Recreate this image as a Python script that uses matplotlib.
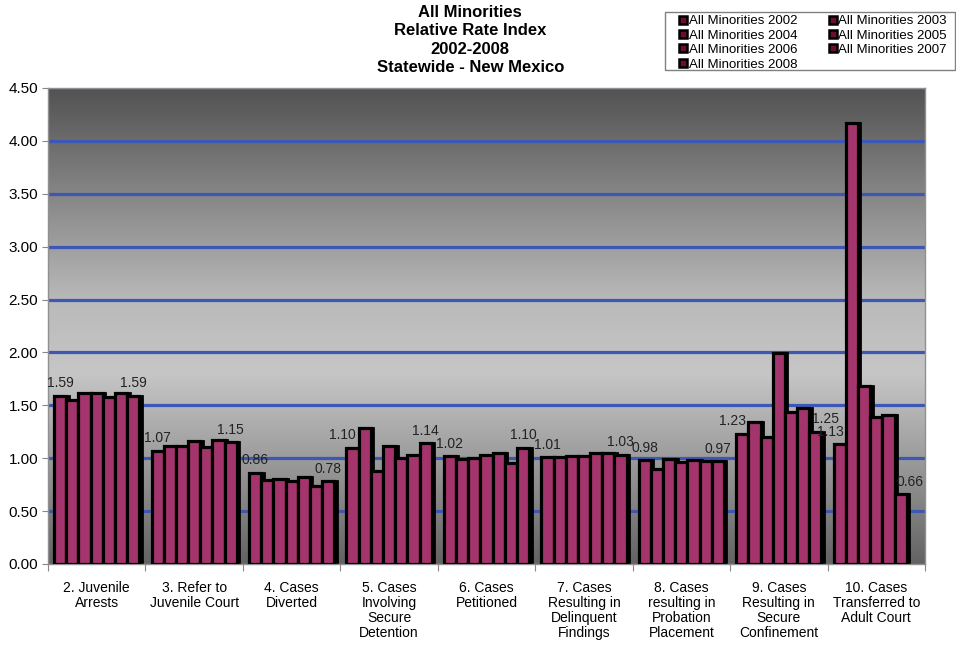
import matplotlib
matplotlib.use('Agg')
import matplotlib.pyplot as plt
import numpy as np
from matplotlib.colors import LinearSegmentedColormap
from matplotlib.lines import Line2D
from matplotlib.patches import Rectangle

categories = ['2. Juvenile\nArrests', '3. Refer to\nJuvenile Court', '4. Cases\nDiverted',
              '5. Cases\nInvolving\nSecure\nDetention', '6. Cases\nPetitioned',
              '7. Cases\nResulting in\nDelinquent\nFindings', '8. Cases\nresulting in\nProbation\nPlacement',
              '9. Cases\nResulting in\nSecure\nConfinement', '10. Cases\nTransferred to\nAdult Court']
years = ['2002', '2003', '2004', '2005', '2006', '2007', '2008']

# one list per year, values per category
rri_2002 = [1.59, 1.07, 0.86, 1.10, 1.02, 1.01, 0.98, 1.23, 1.13]
rri_2003 = [1.55, 1.12, 0.79, 1.29, 0.99, 1.01, 0.90, 1.34, 4.17]
rri_2004 = [1.62, 1.12, 0.80, 0.88, 1.00, 1.02, 0.99, 1.20, 1.68]
rri_2005 = [1.62, 1.16, 0.78, 1.12, 1.03, 1.02, 0.96, 1.99, 1.39]
rri_2006 = [1.58, 1.11, 0.82, 1.00, 1.05, 1.05, 0.98, 1.44, 1.41]
rri_2007 = [1.62, 1.17, 0.74, 1.03, 0.95, 1.05, 0.97, 1.47, 0.66]
rri_2008 = [1.59, 1.15, 0.78, 1.14, 1.10, 1.03, 0.97, 1.25, np.nan]
series = [rri_2002, rri_2003, rri_2004, rri_2005, rri_2006, rri_2007, rri_2008]

yticks = [0, 0.5, 1.0, 1.5, 2.0, 2.5, 3.0, 3.5, 4.0, 4.5]

bar_color = '#a3356c'
grid_blue = '#3c58b4'

fig = plt.figure(figsize=(9.56, 6.45), dpi=100)
ax = fig.add_axes([0.0502, 0.1256, 0.9174, 0.738])

# gradient background
cmap = LinearSegmentedColormap.from_list('bg', [(0.0, '#636363'), (0.22, '#9c9c9c'), (0.40, '#c6c6c6'),
                                                (0.55, '#bababa'), (1.0, '#525252')])
grad = np.linspace(0, 1, 256).reshape(-1, 1)
ax.imshow(grad, aspect='auto', cmap=cmap, origin='lower', extent=[-0.5, 8.5, 0, 4.5], zorder=0)

for t in yticks[1:]:
    ax.axhline(t, color=grid_blue, lw=2.3, zorder=1)

x = np.arange(len(categories))
w = 0.125
for i, vals in enumerate(series):
    vals = np.array(vals, dtype=float)
    pos = x + (i - 3) * w
    # drop shadow
    ax.bar(pos + 0.025, vals, w, color='black', edgecolor='black', lw=2, zorder=2)
    ax.bar(pos, vals, w, color=bar_color, edgecolor='black', lw=2.3, zorder=3)

# data labels on first and last year of each group, nudged aside when the neighbour bar is taller
for j in range(len(categories)):
    col = np.array([s[j] for s in series], dtype=float)
    valid = np.where(~np.isnan(col))[0]
    for k, nb, side in ((valid[0], valid[0] + 1, -1), (valid[-1], valid[-1] - 1, 1)):
        dx = 7 * side if col[nb] > col[k] + 0.1 else 0
        ax.annotate('%.2f' % col[k], (x[j] + (k - 3) * w, col[k]), xytext=(dx, 4),
                    textcoords='offset points', ha='center', va='bottom', fontsize=10,
                    family='Liberation Sans', color='#222222', zorder=5)

ax.set_xlim(-0.5, 8.5)
ax.set_ylim(0, 4.5)
ax.set_yticks(yticks)
ax.get_yaxis().set_major_formatter(matplotlib.ticker.FuncFormatter(lambda v, p: '%.2f' % v))
ax.set_xticks(np.arange(-0.5, 9.0, 1.0))
ax.set_xticklabels([])
ax.set_xticks(x, minor=True)
ax.set_xticklabels(categories, minor=True, fontsize=10, family=['Liberation Sans Narrow', 'Liberation Sans'],
                   linespacing=1.1)
ax.tick_params(axis='x', which='minor', length=0, pad=12)
ax.tick_params(axis='x', which='major', length=5, color='#888888')
ax.tick_params(axis='y', length=4, color='#888888', labelsize=11, pad=3)
for lab in ax.get_yticklabels():
    lab.set_family('Liberation Sans')
for s in ax.spines.values():
    s.set_color('#909090')
    s.set_linewidth(1)

fig.text(0.492, 0.993, 'All Minorities\nRelative Rate Index\n2002-2008\nStatewide - New Mexico',
         ha='center', va='top', fontsize=12, fontweight='bold', family='Liberation Sans', linespacing=1.3)

# legend box drawn separately so the entries can sit with Excel-like padding
fig.patches.append(Rectangle((0.6956, 0.8915), 0.3033, 0.0899, transform=fig.transFigure,
                             facecolor='white', edgecolor='#808080', lw=1))
handles = [Line2D([], [], marker='s', ls='', markersize=6, markerfacecolor='#6a0f2c',
                  markeredgecolor='black', markeredgewidth=1.8) for _ in years]
labels = ['All Minorities ' + y for y in years]
order = [0, 2, 4, 6, 1, 3, 5]
leg = fig.legend([handles[i] for i in order], [labels[i] for i in order], loc='upper left',
                 bbox_to_anchor=(0.707, 0.981), ncol=2, frameon=False,
                 handlelength=0.7, handletextpad=0.1, columnspacing=2.3, labelspacing=0.17,
                 borderpad=0.2, borderaxespad=0, prop={'family': 'Liberation Sans', 'size': 9.5})

fig.savefig('out.png', dpi=100)
